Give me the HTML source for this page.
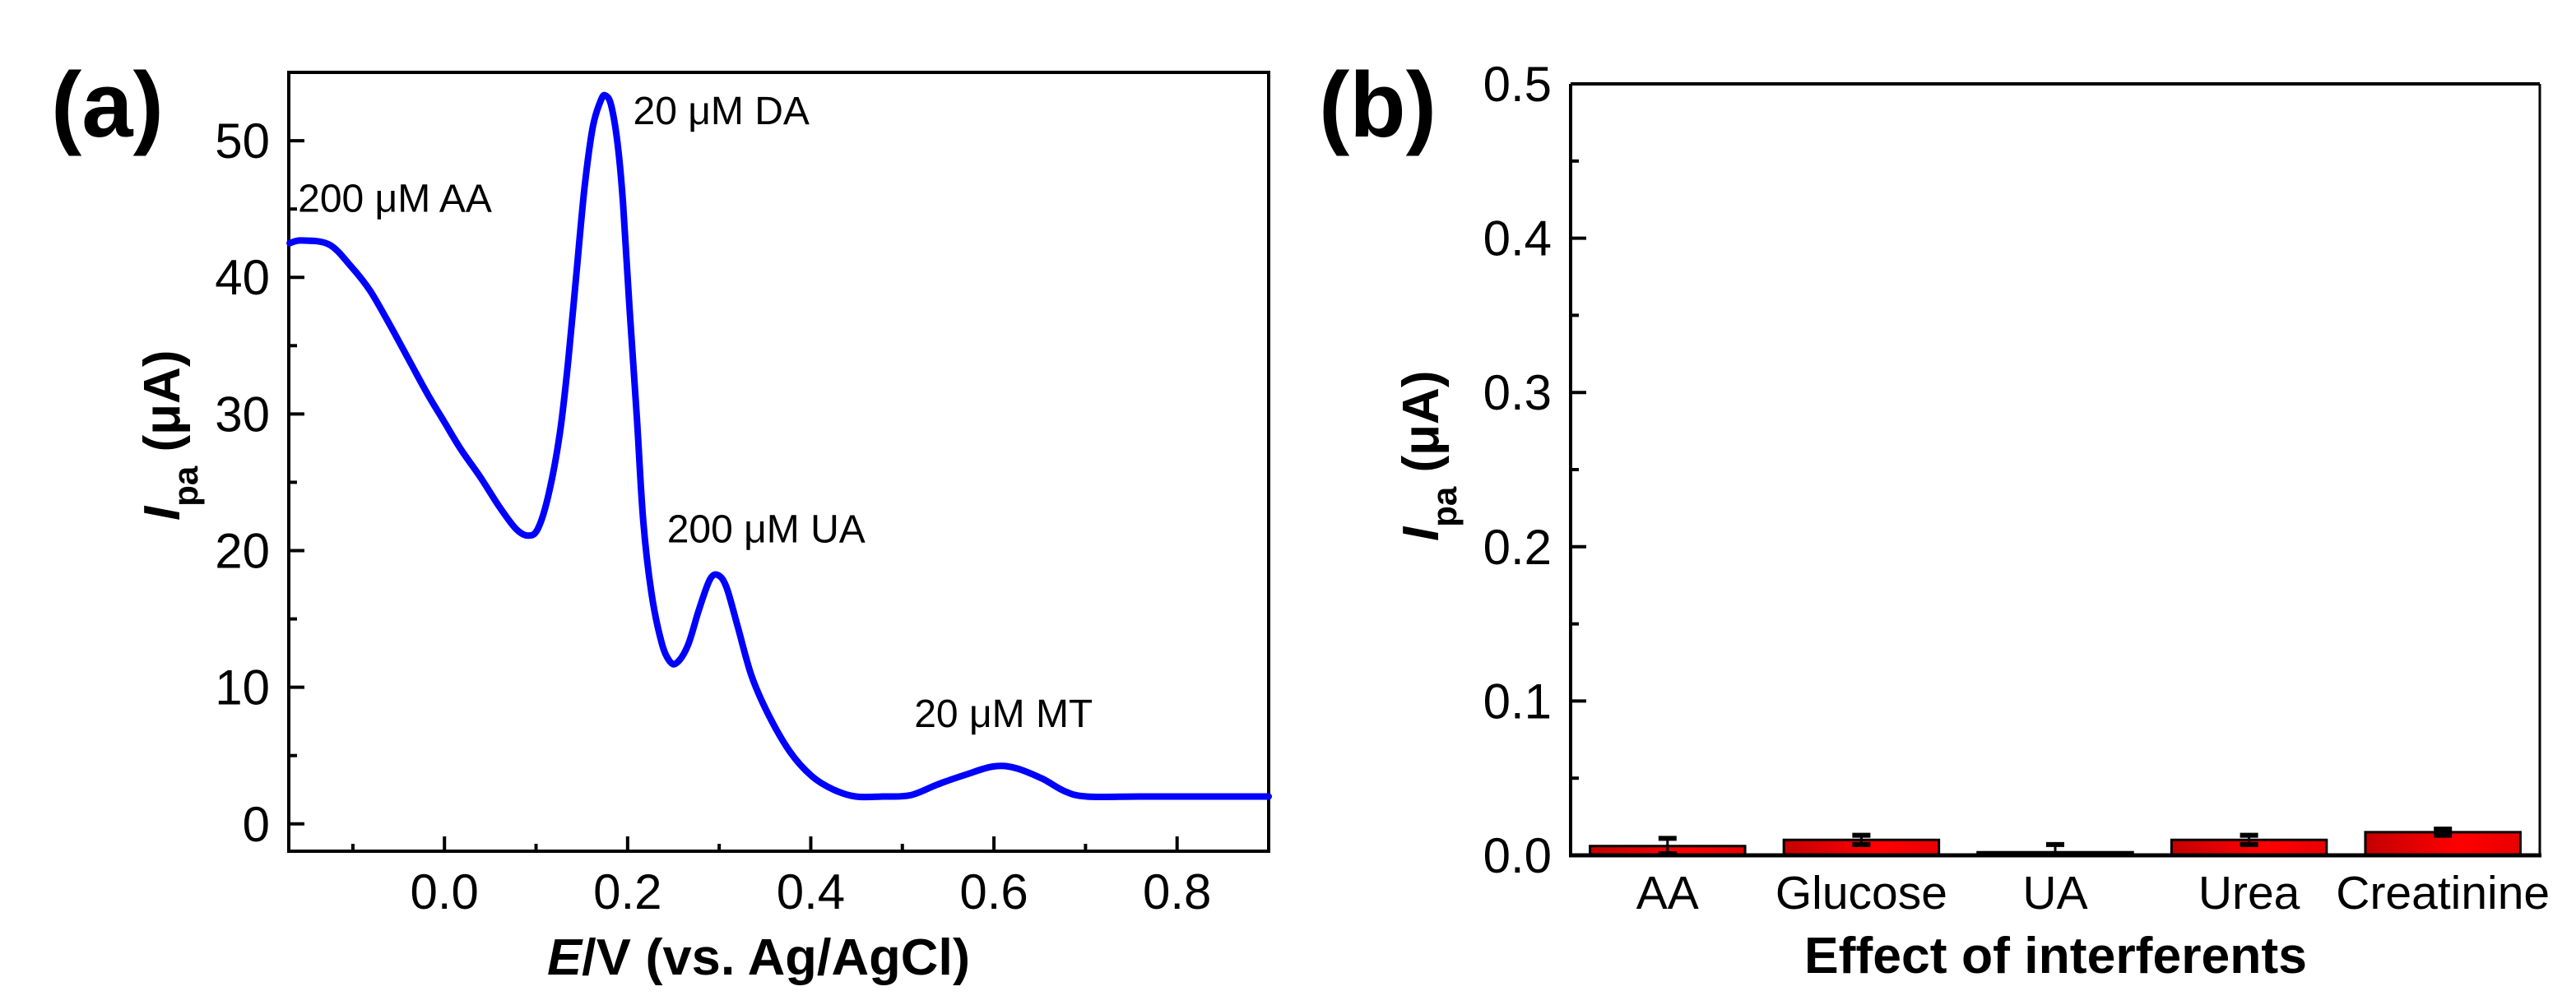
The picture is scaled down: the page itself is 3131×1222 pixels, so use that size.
<!DOCTYPE html>
<html><head><meta charset="utf-8"><style>
html,body{margin:0;padding:0;background:#fff;}
svg{display:block;font-family:"Liberation Sans",Arial,sans-serif;}
</style></head><body>
<svg id="fig" width="3131" height="1222" viewBox="0 0 3131 1222" xmlns="http://www.w3.org/2000/svg">
<defs>
<linearGradient id="barGrad" x1="0" y1="0" x2="1" y2="0">
<stop offset="0" stop-color="#c40000"/><stop offset="0.6" stop-color="#ff0000"/><stop offset="1" stop-color="#e80000"/>
</linearGradient>
</defs>
<g id="panelA"></g>
<g id="panelB"></g>
</svg>
<script>
// ---- Panel (a) data ----
const cvE = [-0.169,-0.156,-0.126,-0.102,-0.081,-0.057,-0.036,-0.018,0,0.018,0.039,0.060,0.078,0.091,0.102,0.114,0.126,0.135,0.144,0.153,0.162,0.171,0.176,0.182,0.189,0.195,0.202,0.210,0.217,0.226,0.237,0.246,0.254,0.266,0.278,0.290,0.299,0.308,0.320,0.335,0.353,0.377,0.401,0.425,0.449,0.479,0.509,0.539,0.569,0.599,0.623,0.653,0.677,0.701,0.759,0.83,0.90];
const cvI = [42.5,42.7,42.4,40.8,39.0,36.2,33.6,31.4,29.4,27.4,25.4,23.2,21.6,21.1,21.6,24.2,28.6,33.8,40.2,46.6,51.0,53.0,53.3,52.6,49.8,45.4,37.8,29.8,22.2,16.9,13.3,11.9,11.8,13.1,15.7,17.9,18.2,17.3,14.5,10.9,8.1,5.3,3.5,2.5,2.0,2.0,2.1,2.9,3.6,4.2,4.1,3.3,2.4,2.0,2.0,2.0,2.0];
const aXTicks = [0.0,0.2,0.4,0.6,0.8];
const aXTickLabels = ["0.0","0.2","0.4","0.6","0.8"];
const aYTicks = [0,10,20,30,40,50];
const aYTickLabels = ["0","10","20","30","40","50"];
const annTexts = ["200 \u03bcM AA","20 \u03bcM DA","200 \u03bcM UA","20 \u03bcM MT"];
const annE = [-0.160,0.206,0.243,0.513];
const annI = [44.8,51.2,20.6,7.1];
// ---- Panel (b) data ----
const categories = ["AA","Glucose","UA","Urea","Creatinine"];
const barValues = [0.006,0.010,0.002,0.010,0.015];
const barErrors = [0.005,0.003,0.005,0.003,0.002];
const bYTicks = [0.0,0.1,0.2,0.3,0.4,0.5];
const bYTickLabels = ["0.0","0.1","0.2","0.3","0.4","0.5"];

const NS="http://www.w3.org/2000/svg";
function mk(tag,attrs,parent,text){const e=document.createElementNS(NS,tag);for(const k in attrs)e.setAttribute(k,attrs[k]);if(text!==undefined)e.textContent=text;parent.appendChild(e);return e;}

// Panel A
const A=document.getElementById('panelA');
const aL=351,aR=1542,aT=88,aB=1035,xmin=-0.17,xmax=0.90,ymin=-2,ymax=55;
const ax=v=>aL+(v-xmin)/(xmax-xmin)*(aR-aL);
const ay=v=>aB-(v-ymin)/(ymax-ymin)*(aB-aT);
let el;
el=mk('rect',{x:aL,y:aT,width:aR-aL,height:aB-aT,fill:'none',stroke:'#000','stroke-width':4},A);


for(let v=-0.1;v<=0.85;v+=0.1){const x=ax(v);const major=Math.abs(Math.round(v*10)%2)===0;
 el=mk('line',{x1:x,x2:x,y1:aB,y2:aB-(major?18:9),stroke:'#000','stroke-width':4},A);
 
 }
for(let v=0;v<=55;v+=5){const y=ay(v);const major=v%10===0;
 el=mk('line',{x1:aL,x2:aL+(major?19:10),y1:y,y2:y,stroke:'#000','stroke-width':4},A);
 
 }
aXTicks.forEach((v,i)=>{el=mk('text',{x:ax(v),y:1105,'font-size':60,'text-anchor':'middle'},A,aXTickLabels[i]);
 
 });
aYTicks.forEach((v,i)=>{el=mk('text',{x:328,y:ay(v)+21,'font-size':60,'text-anchor':'end'},A,aYTickLabels[i]);
 
 });
// smooth Catmull-Rom path through data points
const P=cvE.map((e,i)=>[ax(e),ay(cvI[i])]);
let d='M'+P[0][0].toFixed(1)+','+P[0][1].toFixed(1);
for(let i=0;i<P.length-1;i++){
 const p0=P[Math.max(0,i-1)],p1=P[i],p2=P[i+1],p3=P[Math.min(P.length-1,i+2)];
 const c1=[p1[0]+(p2[0]-p0[0])/6,p1[1]+(p2[1]-p0[1])/6];
 const c2=[p2[0]-(p3[0]-p1[0])/6,p2[1]-(p3[1]-p1[1])/6];
 d+=' C'+c1[0].toFixed(1)+','+c1[1].toFixed(1)+' '+c2[0].toFixed(1)+','+c2[1].toFixed(1)+' '+p2[0].toFixed(1)+','+p2[1].toFixed(1);
}
el=mk('path',{d:d,fill:'none',stroke:'#0000ff','stroke-width':8,'stroke-linejoin':'round','stroke-linecap':'round'},A);


annTexts.forEach((t,i)=>{el=mk('text',{x:ax(annE[i]),y:ay(annI[i]),'font-size':48},A,t);
 
 });
el=mk('text',{x:62,y:166,'font-size':112,'font-weight':'bold'},A,'(a)');


el=mk('text',{x:665,y:1185,'font-size':62,'font-weight':'bold',textLength:514,lengthAdjust:'spacingAndGlyphs'},A);


el.innerHTML='<tspan font-style="italic">E</tspan>/V (vs. Ag/AgCl)';
el=mk('text',{transform:'translate(218,633) rotate(-90)','font-size':62,'font-weight':'bold'},A);


el.innerHTML='<tspan font-style="italic">I</tspan><tspan font-size="42" dy="22">pa</tspan><tspan dy="-22"> (\u03bcA)</tspan>';

// Panel B
const B=document.getElementById('panelB');
const bL=1909,bR=3087,bT=102,bB=1040,bymin=0,bymax=0.5;
const by=v=>bB-(v-bymin)/(bymax-bymin)*(bB-bT);
const slot=(bR-bL)/categories.length;
const bx=i=>bL+slot*(i+0.5);
const bw=slot*0.8;
categories.forEach((c,i)=>{
 const top=by(barValues[i]);
 el=mk('rect',{x:bx(i)-bw/2,y:top,width:bw,height:bB-top,fill:'url(#barGrad)',stroke:'#000','stroke-width':3},B);
 
 
 const e1=by(barValues[i]+barErrors[i]),e0=by(Math.max(0,barValues[i]-barErrors[i]));
 el=mk('line',{x1:bx(i),x2:bx(i),y1:e1,y2:Math.min(e0,bB),stroke:'#000','stroke-width':3},B);
 
 
 el=mk('line',{x1:bx(i)-11,x2:bx(i)+11,y1:e1,y2:e1,stroke:'#000','stroke-width':6},B);
 
 
 if(barValues[i]-barErrors[i]>0){
 el=mk('line',{x1:bx(i)-11,x2:bx(i)+11,y1:e0,y2:e0,stroke:'#000','stroke-width':6},B);
 
 }
 el=mk('text',{x:bx(i),y:1105,'font-size':57,'text-anchor':'middle'},B,c);
 
 
});
el=mk('line',{x1:bL,x2:bR,y1:bT,y2:bT,stroke:'#000','stroke-width':4},B);


el=mk('line',{x1:bR,x2:bR,y1:bT,y2:bB,stroke:'#000','stroke-width':3},B);


el=mk('line',{x1:bL,x2:bL,y1:bT,y2:bB,stroke:'#000','stroke-width':4},B);


el=mk('line',{x1:bL-2,x2:bR+2,y1:bB,y2:bB,stroke:'#000','stroke-width':5},B);


for(let k=0;k<=10;k++){const v=k*0.05;const y=by(v);const major=k%2===0;
 el=mk('line',{x1:bL,x2:bL+(major?19:10),y1:y,y2:y,stroke:'#000','stroke-width':4},B);
 
 }
bYTicks.forEach((v,i)=>{el=mk('text',{x:1886,y:by(v)+21,'font-size':60,'text-anchor':'end'},B,bYTickLabels[i]);
 
 });
el=mk('text',{x:1603,y:166,'font-size':112,'font-weight':'bold'},B,'(b)');


el=mk('text',{x:2193,y:1183,'font-size':62,'font-weight':'bold',textLength:611,lengthAdjust:'spacingAndGlyphs'},B,'Effect of interferents');


el=mk('text',{transform:'translate(1748,658) rotate(-90)','font-size':62,'font-weight':'bold'},B);


el.innerHTML='<tspan font-style="italic">I</tspan><tspan font-size="42" dy="22">pa</tspan><tspan dy="-22"> (\u03bcA)</tspan>';
</script>
</body></html>
